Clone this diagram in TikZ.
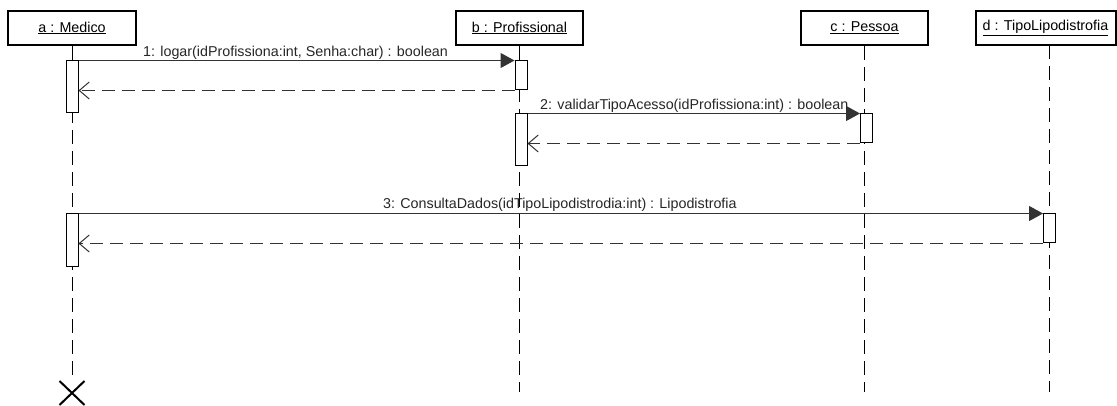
\documentclass[tikz,border=0pt]{standalone}
\usepackage{fontspec}
\setmainfont{Liberation Sans}
\usetikzlibrary{arrows.meta}
\begin{document}
\begin{tikzpicture}[x=1pt,y=-1pt,
  font=\fontsize{14.3}{16}\selectfont,
  head/.style={draw,line width=2pt,rectangle,minimum height=34pt,inner sep=0pt,fill=white},
  act/.style={draw,line width=1pt,rectangle,fill=white,minimum width=12pt,inner sep=0pt},
  life/.style={line width=1pt,dash pattern=on 14pt off 7pt},
  msg/.style={line width=1.2pt,black!80,-{Triangle[length=14pt,width=15pt]}},
  ret/.style={line width=1.2pt,black!80,dash pattern=on 13pt off 7pt,-{Straight Barb[length=10pt,width=17pt,line width=1pt]}},
  lbl/.style={anchor=base west,inner sep=0pt,black!85}]
\useasboundingbox (0,0) rectangle (1117,406);

% object heads
\node[head,minimum width=128pt] (a) at (72,28) {\raisebox{2pt}{\underline{a : Medico}}};
\node[head,minimum width=127pt] (b) at (519.5,28) {\raisebox{2pt}{\underline{b : Profissional}}};
\node[head,minimum width=127pt] (c) at (864.5,28) {\raisebox{2pt}{\underline{c : Pessoa}}};
\node[head,minimum width=140pt] (d) at (1045.5,28) {\raisebox{2pt}{\underline{d : TipoLipodistrofia}}};

% lifeline ends
\coordinate (aend) at (72,381);
\coordinate (bend) at (519.5,392);
\coordinate (cend) at (864.5,392);
\coordinate (dtop) at (1049,45);
\coordinate (dend) at (1049,392);

% lifelines
\draw[life] (a.south) -- (aend);
\draw[life] (b.south) -- (bend);
\draw[life] (c.south) -- (cend);
\draw[life] (dtop) -- (dend);

% destruction mark
\coordinate (ax) at (72,393);
\draw[line width=2pt] ([shift={(-12.5,-12)}]ax) -- ([shift={(12.5,12)}]ax)
                      ([shift={(-12.5,12)}]ax) -- ([shift={(12.5,-12)}]ax);

% activation bars
\node[act,minimum height=52pt] (a1) at (72,87) {};
\node[act,minimum height=29pt] (b1) at (521,75.5) {};
\node[act,minimum height=52pt] (b2) at (521,140) {};
\node[act,minimum height=29pt] (c1) at (866.5,128.5) {};
\node[act,minimum height=53pt] (a2) at (72,240.5) {};
\node[act,minimum height=29pt] (d1) at (1049.5,228.5) {};

% messages and replies
\draw[msg] (a1.north east) -- (b1.north west);
\node[lbl] (l1) at (143,57) {1: logar(idProfissiona:int, Senha:char) : boolean};
\draw[ret] (b1.south west) -- (b1.south west -| a1.east);

\draw[msg] (b2.north east) -- (c1.north west);
\node[lbl] (l2) at (540,110) {2: validarTipoAcesso(idProfissiona:int) : boolean};
\draw[ret] (c1.south west) -- (c1.south west -| b2.east);

\draw[msg] (a2.north east) -- (d1.north west);
\node[lbl] (l3) at (383,209) {3: ConsultaDados(idTipoLipodistrodia:int) : Lipodistrofia};
\draw[ret] (d1.south west) -- (d1.south west -| a2.east);
\end{tikzpicture}
\end{document}
